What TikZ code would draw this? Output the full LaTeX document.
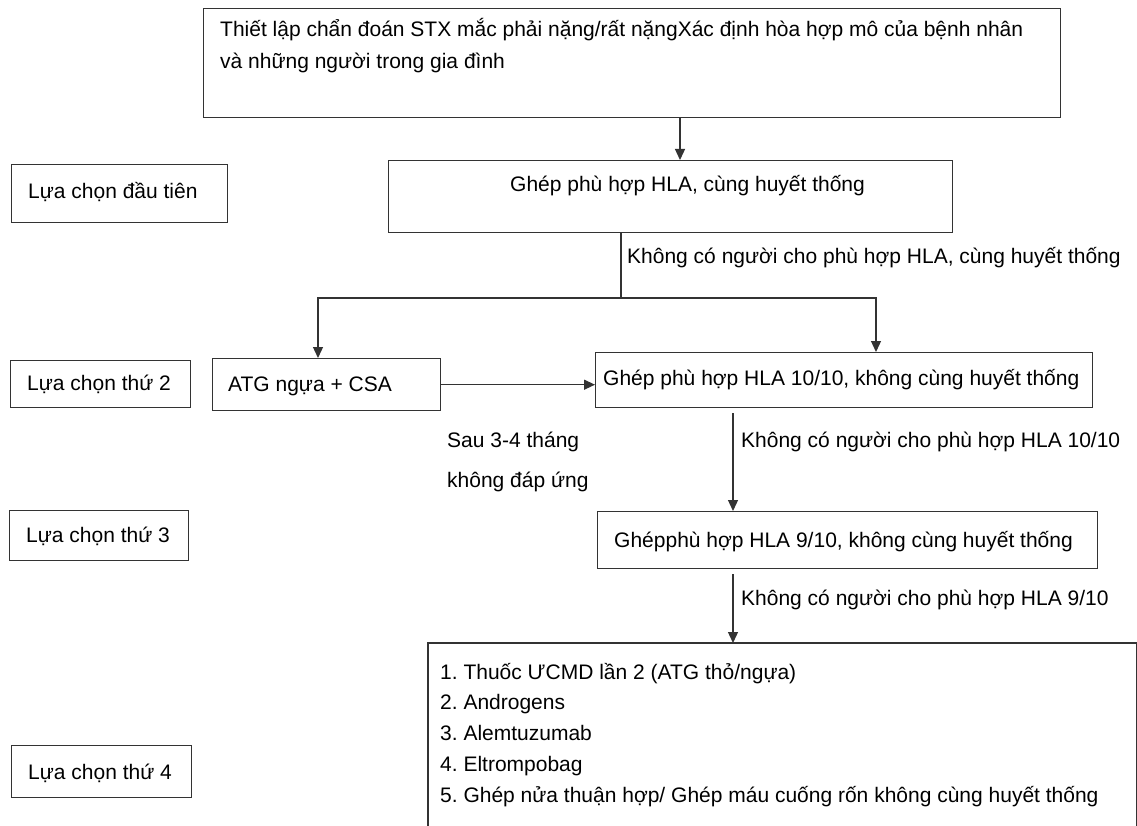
\documentclass[tikz,border=0pt]{standalone}
\usepackage{fontspec}
\setmainfont{Liberation Sans}
\usetikzlibrary{arrows.meta}
\definecolor{linec}{HTML}{333333}
\frenchspacing
\begin{document}
\begin{tikzpicture}[x=1pt,y=-1pt,
  box/.style={draw=linec,line width=1.4pt,inner sep=0pt,anchor=north west},
  txt/.style={font=\fontsize{21}{25}\selectfont,inner sep=0pt,anchor=base west,text=black},
  conn/.style={draw=linec,line width=1.3pt},
  arr/.style={conn,-{Triangle[length=11pt,width=10pt]}}]
\useasboundingbox (0,0) rectangle (1137,826);
\clip (0,0) rectangle (1137,826);
\fill[white] (0,0) rectangle (1137,826);
% boxes
\node[box,minimum width=857pt,minimum height=109pt] (top) at (203,8) {};
\node[txt] (topt1) at (220,37) {Thiết lập chẩn đoán STX mắc phải nặng/rất nặngXác định hòa hợp mô của bệnh nhân};
\node[txt] (topt2) at (220,69) {và những người trong gia đình};

\node[box,minimum width=564pt,minimum height=72pt] (b2) at (388,160) {};
\node[txt] (b2t) at (510,192) {Ghép phù hợp HLA, cùng huyết thống};

\node[box,minimum width=216pt,minimum height=58pt] (l1) at (11,164) {};
\node[txt] (l1t) at (28,199) {Lựa chọn đầu tiên};

\node[txt] (lab1) at (627,263) {Không có người cho phù hợp HLA, cùng huyết thống};

\node[box,minimum width=180pt,minimum height=47pt] (l2) at (10,360) {};
\node[txt] (l2t) at (27,390) {Lựa chọn thứ 2};

\node[box,minimum width=228pt,minimum height=52pt] (atg) at (212,358) {};
\node[txt] (atgt) at (228,391) {ATG ngựa + CSA};

\node[box,minimum width=497pt,minimum height=55pt] (b3) at (595,352) {};
\node[txt] (b3t) at (603,385) {Ghép phù hợp HLA 10/10, không cùng huyết thống};

\node[txt] (sau1) at (447,447) {Sau 3-4 tháng};
\node[txt] (sau2) at (447,487) {không đáp ứng};
\node[txt] (lab2) at (741,447) {Không có người cho phù hợp HLA 10/10};

\node[box,minimum width=179pt,minimum height=50pt] (l3) at (9,510) {};
\node[txt] (l3t) at (26,542) {Lựa chọn thứ 3};

\node[box,minimum width=500pt,minimum height=57pt] (b4) at (597,511) {};
\node[txt] (b4t) at (614,547) {Ghépphù hợp HLA 9/10, không cùng huyết thống};

\node[txt] (lab3) at (741,605) {Không có người cho phù hợp HLA 9/10};

\node[inner sep=0pt,anchor=north west,minimum width=708pt,minimum height=200pt] (fin) at (428,643) {};
\draw[conn,line width=1.4pt] (fin.south west) -- (fin.north west) -- (fin.north east) -- (fin.south east);
\node[txt] (i1) at (440,679) {1. Thuốc ƯCMD lần 2 (ATG thỏ/ngựa)};
\node[txt] (i2) at (440,709) {2. Androgens};
\node[txt] (i3) at (440,740) {3. Alemtuzumab};
\node[txt] (i4) at (440,771) {4. Eltrompobag};
\node[txt] (i5) at (440,802) {5. Ghép nửa thuận hợp/ Ghép máu cuống rốn không cùng huyết thống};

\node[box,minimum width=180pt,minimum height=52pt] (l4) at (11,745) {};
\node[txt] (l4t) at (28,779) {Lựa chọn thứ 4};

% connectors
\coordinate (c1) at (680,0);
\coordinate (j) at (621,298);
\coordinate (cl) at (318,0);
\coordinate (cr) at (876,0);
\coordinate (c3) at (733,0);
\draw[arr] (top.south -| c1) -- (b2.north -| c1);
\draw[conn] (b2.south -| j) -- (j);
\draw[arr] (j) -| (atg.north -| cl);
\draw[arr] (j) -| (b3.north -| cr);
\draw[arr] (atg.east) -- (atg.east -| b3.west);
\draw[arr,shorten <=5pt] (b3.south -| c3) -- (b4.north -| c3);
\draw[arr,shorten <=5pt] (b4.south -| c3) -- (fin.north -| c3);
\end{tikzpicture}
\end{document}
